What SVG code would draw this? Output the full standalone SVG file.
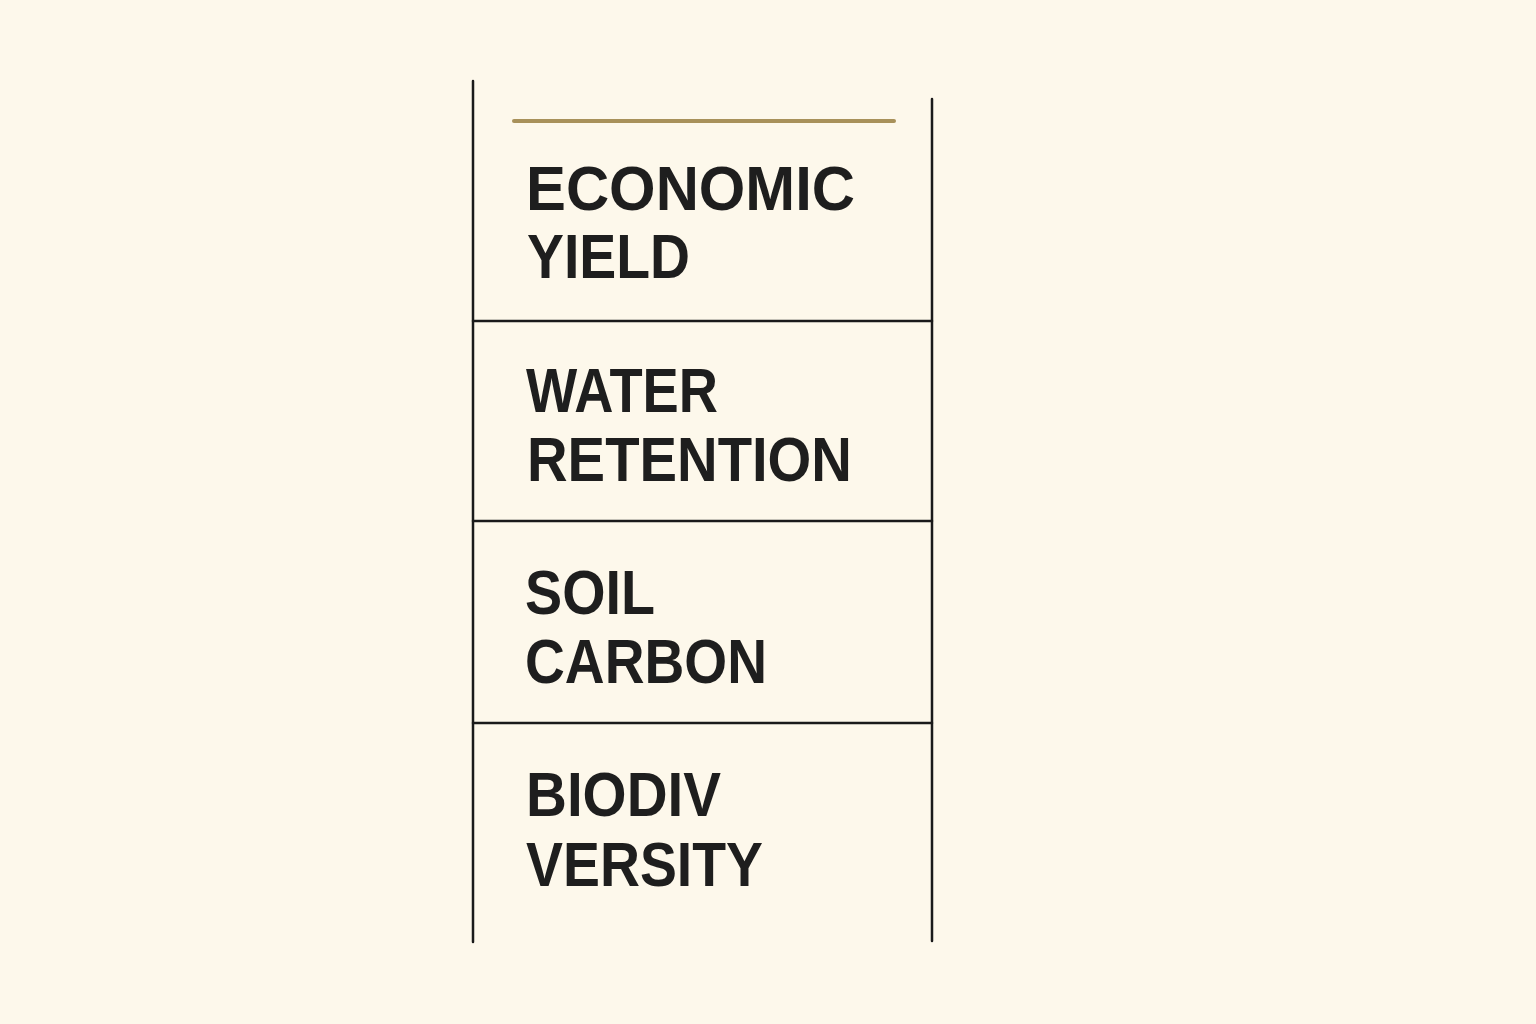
<svg xmlns="http://www.w3.org/2000/svg" width="1536" height="1024" viewBox="0 0 1536 1024">
<style>
.frame{stroke:#1a1a1a;stroke-width:2.5;fill:none;stroke-linecap:round}
.lbl{font-family:"Liberation Sans",Arial,sans-serif;font-weight:bold;font-size:63px;fill:#1e1e1e}
</style>
<rect width="1536" height="1024" fill="#fdf8eb"/>
<g id="connectors">
<line class="frame" x1="473" y1="81" x2="473" y2="942"/>
<line class="frame" x1="932" y1="99" x2="932" y2="941"/>
<line x1="514" y1="121" x2="894" y2="121" stroke="#a8915a" stroke-width="4" stroke-linecap="round"/>
</g>
<g id="node-economic">
<text class="lbl" x="526" y="210" textLength="329" lengthAdjust="spacingAndGlyphs">ECONOMIC</text>
<text class="lbl" x="527" y="278" textLength="163" lengthAdjust="spacingAndGlyphs">YIELD</text>
</g>
<g id="node-water">
<line class="frame" x1="473" y1="321" x2="932" y2="321"/>
<text class="lbl" x="526" y="412" textLength="192" lengthAdjust="spacingAndGlyphs">WATER</text>
<text class="lbl" x="527" y="481" textLength="325" lengthAdjust="spacingAndGlyphs">RETENTION</text>
</g>
<g id="node-soil">
<line class="frame" x1="473" y1="521" x2="932" y2="521"/>
<text class="lbl" x="525" y="614" textLength="130" lengthAdjust="spacingAndGlyphs">SOIL</text>
<text class="lbl" x="525" y="683" textLength="242" lengthAdjust="spacingAndGlyphs">CARBON</text>
</g>
<g id="node-bio">
<line class="frame" x1="473" y1="723" x2="932" y2="723"/>
<text class="lbl" x="526" y="816" textLength="195" lengthAdjust="spacingAndGlyphs">BIODIV</text>
<text class="lbl" x="526" y="886" textLength="237" lengthAdjust="spacingAndGlyphs">VERSITY</text>
</g>
</svg>
